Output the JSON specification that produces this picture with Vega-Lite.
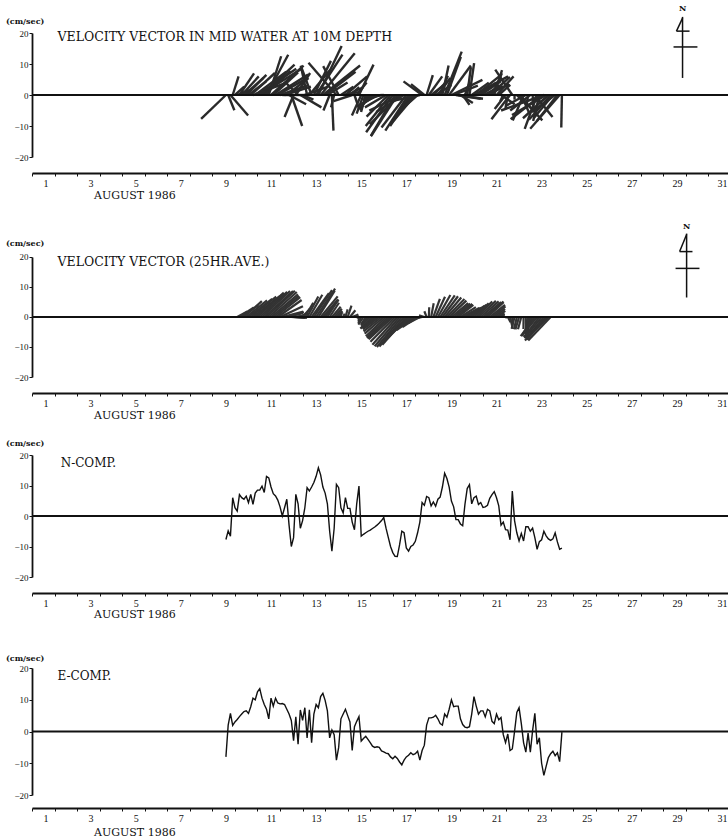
{
"$schema": "https://vega.github.io/schema/vega-lite/v6.json",
"background": "white",
"padding": {"left": 5, "top": 5, "right": 0, "bottom": 0},
"config": {
  "view": {"stroke": null},
  "font": "DejaVu Serif",
  "axis": {"grid": false, "domainColor": "#111", "domainWidth": 1.8, "tickColor": "#111", "labelColor": "#111", "titleColor": "#111", "labelFont": "Liberation Serif", "titleFont": "DejaVu Serif"}
},
"datasets": {
  "cur": [
{"t":9.0,"N":-7.7,"E":-8.0},{"t":9.1,"N":-4.9,"E":2.0},{"t":9.2,"N":-6.6,"E":5.7},{"t":9.3,"N":6.0,"E":1.9},{"t":9.4,"N":2.7,"E":3.0},
{"t":9.5,"N":1.6,"E":3.8},{"t":9.6,"N":7.0,"E":4.7},{"t":9.7,"N":6.0,"E":5.5},{"t":9.8,"N":5.5,"E":6.3},{"t":9.9,"N":6.5,"E":6.5},
{"t":10.0,"N":4.4,"E":5.7},{"t":10.1,"N":7.1,"E":7.8},{"t":10.2,"N":3.8,"E":10.5},{"t":10.3,"N":7.5,"E":10.0},{"t":10.4,"N":8.5,"E":12.5},
{"t":10.5,"N":8.5,"E":13.5},{"t":10.6,"N":9.8,"E":10.5},{"t":10.7,"N":7.7,"E":8.5},{"t":10.8,"N":13.0,"E":7.0},{"t":10.9,"N":12.5,"E":4.0},
{"t":11.0,"N":9.5,"E":10.5},{"t":11.1,"N":7.3,"E":8.0},{"t":11.2,"N":6.6,"E":10.5},{"t":11.3,"N":5.2,"E":9.0},{"t":11.4,"N":3.0,"E":8.7},
{"t":11.5,"N":0.0,"E":8.8},{"t":11.6,"N":2.7,"E":8.5},{"t":11.7,"N":5.5,"E":7.0},{"t":11.8,"N":-3.0,"E":5.5},{"t":11.9,"N":-10.0,"E":3.5},
{"t":12.0,"N":-7.1,"E":-2.9},{"t":12.1,"N":7.1,"E":4.6},{"t":12.2,"N":4.0,"E":-4.0},{"t":12.3,"N":-4.0,"E":6.8},{"t":12.4,"N":-1.5,"E":3.5},
{"t":12.5,"N":2.7,"E":7.5},{"t":12.6,"N":9.3,"E":-2.0},{"t":12.7,"N":8.2,"E":6.8},{"t":12.8,"N":9.5,"E":-3.5},{"t":12.9,"N":11.0,"E":5.5},
{"t":13.0,"N":13.0,"E":8.5},{"t":13.1,"N":15.8,"E":7.5},{"t":13.2,"N":13.5,"E":11.0},{"t":13.3,"N":9.5,"E":12.0},{"t":13.4,"N":7.5,"E":9.8},
{"t":13.5,"N":4.0,"E":6.5},{"t":13.6,"N":-5.0,"E":-2.0},{"t":13.7,"N":-11.5,"E":0.5},{"t":13.8,"N":-4.0,"E":-1.0},{"t":13.9,"N":10.4,"E":-9.0},
{"t":14.0,"N":9.3,"E":-5.0},{"t":14.1,"N":2.7,"E":4.0},{"t":14.2,"N":1.0,"E":5.5},{"t":14.3,"N":6.0,"E":7.0},{"t":14.4,"N":2.5,"E":5.0},
{"t":14.5,"N":2.5,"E":3.0},{"t":14.6,"N":-2.0,"E":-6.0},{"t":14.7,"N":-4.5,"E":1.5},{"t":14.8,"N":4.0,"E":3.2},{"t":14.9,"N":9.8,"E":4.7},
{"t":15.0,"N":-6.6,"E":-3.0},{"t":15.1,"N":-6.0,"E":-2.2},{"t":15.2,"N":-5.5,"E":-1.5},{"t":15.3,"N":-5.0,"E":-2.5},{"t":15.4,"N":-4.6,"E":-3.5},
{"t":15.5,"N":-4.1,"E":-4.6},{"t":15.6,"N":-3.6,"E":-5.0},{"t":15.7,"N":-3.0,"E":-4.8},{"t":15.8,"N":-2.3,"E":-5.0},{"t":15.9,"N":-1.5,"E":-6.1},
{"t":16.0,"N":-0.5,"E":-6.4},{"t":16.1,"N":-4.0,"E":-6.8},{"t":16.2,"N":-7.0,"E":-7.0},{"t":16.3,"N":-10.0,"E":-8.0},{"t":16.4,"N":-12.0,"E":-8.6},
{"t":16.5,"N":-13.2,"E":-7.8},{"t":16.6,"N":-13.3,"E":-8.5},{"t":16.7,"N":-9.5,"E":-9.6},{"t":16.8,"N":-5.0,"E":-10.5},{"t":16.9,"N":-5.5,"E":-9.0},
{"t":17.0,"N":-10.5,"E":-8.0},{"t":17.1,"N":-11.5,"E":-7.5},{"t":17.2,"N":-10.0,"E":-6.7},{"t":17.3,"N":-9.5,"E":-7.3},{"t":17.4,"N":-8.3,"E":-7.0},
{"t":17.5,"N":-5.5,"E":-6.2},{"t":17.6,"N":-2.0,"E":-9.0},{"t":17.7,"N":4.4,"E":-6.0},{"t":17.8,"N":3.5,"E":-4.3},{"t":17.9,"N":6.4,"E":2.0},
{"t":18.0,"N":6.0,"E":4.3},{"t":18.1,"N":3.3,"E":4.3},{"t":18.2,"N":4.6,"E":4.5},{"t":18.3,"N":3.2,"E":5.1},{"t":18.4,"N":5.5,"E":4.0},
{"t":18.5,"N":6.2,"E":2.5},{"t":18.6,"N":9.5,"E":2.0},{"t":18.7,"N":14.0,"E":5.5},{"t":18.8,"N":12.3,"E":4.5},{"t":18.9,"N":9.5,"E":7.0},
{"t":19.0,"N":4.9,"E":10.0},{"t":19.1,"N":3.0,"E":7.8},{"t":19.2,"N":-1.2,"E":8.0},{"t":19.3,"N":-1.2,"E":8.0},{"t":19.4,"N":-2.6,"E":4.0},
{"t":19.5,"N":-3.2,"E":2.2},{"t":19.6,"N":3.8,"E":1.4},{"t":19.7,"N":9.0,"E":1.2},{"t":19.8,"N":10.3,"E":1.5},{"t":19.9,"N":4.0,"E":5.5},
{"t":20.0,"N":6.0,"E":11.0},{"t":20.1,"N":6.5,"E":8.0},{"t":20.2,"N":3.8,"E":5.5},{"t":20.3,"N":4.4,"E":6.5},{"t":20.4,"N":2.8,"E":6.5},
{"t":20.5,"N":3.0,"E":4.6},{"t":20.6,"N":3.5,"E":7.0},{"t":20.7,"N":5.8,"E":6.5},{"t":20.8,"N":7.0,"E":3.2},{"t":20.9,"N":8.0,"E":2.5},
{"t":21.0,"N":6.0,"E":5.5},{"t":21.1,"N":3.3,"E":3.7},{"t":21.2,"N":-3.0,"E":4.4},{"t":21.3,"N":-2.0,"E":-1.0},{"t":21.4,"N":-4.5,"E":-3.5},
{"t":21.5,"N":-4.6,"E":-0.8},{"t":21.6,"N":-7.8,"E":-6.0},{"t":21.7,"N":8.2,"E":-5.5},{"t":21.8,"N":-1.5,"E":0.0},{"t":21.9,"N":-5.5,"E":6.0},
{"t":22.0,"N":-8.2,"E":7.5},{"t":22.1,"N":-5.7,"E":2.5},{"t":22.2,"N":-8.2,"E":-3.5},{"t":22.3,"N":-3.5,"E":-6.5},{"t":22.4,"N":-3.5,"E":-0.5},
{"t":22.5,"N":-5.0,"E":-6.5},{"t":22.6,"N":-4.0,"E":0.3},{"t":22.7,"N":-7.1,"E":5.7},{"t":22.8,"N":-10.9,"E":-4.0},{"t":22.9,"N":-8.4,"E":-2.0},
{"t":23.0,"N":-7.8,"E":-10.0},{"t":23.1,"N":-5.0,"E":-13.8},{"t":23.2,"N":-6.5,"E":-11.0},{"t":23.3,"N":-7.5,"E":-8.2},{"t":23.4,"N":-8.0,"E":-7.0},
{"t":23.5,"N":-7.5,"E":-6.2},{"t":23.6,"N":-5.5,"E":-7.6},{"t":23.7,"N":-8.5,"E":-6.7},{"t":23.8,"N":-10.9,"E":-9.5},{"t":23.9,"N":-10.5,"E":-0.2}
  ]
},
"spacing": 78,
"bounds": "flush",
"vconcat": [
 {
  "width": 697, "height": 124,
  "resolve": {"axis": {"x": "independent", "y": "independent"}},
  "layer": [
   {
    "data": {"name": "cur"},
    "transform": [{"calculate": "datum.t + 0.1375 * datum.E", "as": "tip"}],
    "mark": {"type": "rule", "color": "#2a2a2a", "strokeWidth": 2.4},
    "encoding": {
     "x": {"field": "tip", "type": "quantitative", "scale": {"domain": [0.4, 31.31], "nice": false, "zero": false},
           "axis": {"values": [0.4,1.4,2.4,3.4,4.4,5.4,6.4,7.4,8.4,9.4,10.4,11.4,12.4,13.4,14.4,15.4,16.4,17.4,18.4,19.4,20.4,21.4,22.4,23.4,24.4,25.4,26.4,27.4,28.4,29.4,30.4],
                    "labelExpr": "round(datum.value + 0.6) % 2 == 1 ? '' + round(datum.value + 0.6) : ''",
                    "labelOffset": 13.5, "offset": 16, "tickSize": 3, "labelPadding": 2, "labelFontSize": 10, "labelFlush": false, "labelOverlap": false, "labelBound": false,
                    "title": "AUGUST 1986", "titleX": 61.5, "titleY": 22, "titleAlign": "left", "titleAnchor": "start", "titleBaseline": "middle", "titleFontSize": 11, "titleFontWeight": "normal"}},
     "x2": {"field": "t"},
     "y": {"field": "N", "type": "quantitative", "scale": {"domain": [-20, 20], "nice": false},
           "axis": {"values": [-20,-10,0,10,20], "domain": true, "tickSize": 3, "labelPadding": 1, "labelFontSize": 9, "labelOverlap": false, "labelBound": false, "labelFlush": false,
                    "title": "(cm/sec)", "titleAngle": 0, "titleX": -26.5, "titleY": -12, "titleAlign": "left", "titleBaseline": "middle", "titleFontSize": 8, "titleFontWeight": "bold"}},
     "y2": {"datum": 0}
    }
   },
   {"data": {"values": [{}]}, "mark": {"type": "rule", "color": "#111", "strokeWidth": 2}, "encoding": {"y": {"datum": 0, "axis": null}}},
   {"data": {"values": [{}]}, "mark": {"type": "text", "align": "left", "baseline": "middle", "fontSize": 12.5, "font": "DejaVu Serif", "color": "#111"},
    "encoding": {"x": {"datum": 1.53, "axis": null}, "y": {"datum": 18.7, "axis": null}, "text": {"value": "VELOCITY VECTOR IN MID WATER AT 10M DEPTH"}}},
   {"data": {"values": [{}]}, "mark": {"type": "rule", "color": "#111", "strokeWidth": 1.5}, "encoding": {"x": {"datum": 29.25, "axis": null}, "y": {"datum": 25.2, "axis": null}, "y2": {"datum": 5.5}}},
   {"data": {"values": [{}]}, "mark": {"type": "rule", "color": "#111", "strokeWidth": 1.5}, "encoding": {"x": {"datum": 29.25, "axis": null}, "x2": {"datum": 28.98}, "y": {"datum": 24.8, "axis": null}, "y2": {"datum": 20.6}}},
   {"data": {"values": [{}]}, "mark": {"type": "rule", "color": "#111", "strokeWidth": 1.5}, "encoding": {"x": {"datum": 28.98, "axis": null}, "x2": {"datum": 29.56}, "y": {"datum": 20.6, "axis": null}}},
   {"data": {"values": [{}]}, "mark": {"type": "rule", "color": "#111", "strokeWidth": 1.5}, "encoding": {"x": {"datum": 28.85, "axis": null}, "x2": {"datum": 29.91}, "y": {"datum": 15.5, "axis": null}}},
   {"data": {"values": [{}]}, "mark": {"type": "text", "align": "center", "baseline": "middle", "fontSize": 8, "fontWeight": "bold", "color": "#111"},
    "encoding": {"x": {"datum": 29.25, "axis": null}, "y": {"datum": 27.6, "axis": null}, "text": {"value": "N"}}}
  ]
 },
 {
  "width": 697, "height": 142,
  "resolve": {"axis": {"x": "independent", "y": "independent"}},
  "layer": [
   {
    "data": {"name": "cur"},
    "transform": [
     {"window": [{"op": "mean", "field": "N", "as": "aN"}, {"op": "mean", "field": "E", "as": "aE"}, {"op": "count", "as": "cnt"}], "frame": [-5, 5], "sort": [{"field": "t"}]},
     {"filter": "datum.cnt == 11"},
     {"calculate": "datum.t + 0.133 * datum.aE", "as": "tip"}
    ],
    "mark": {"type": "rule", "color": "#333", "strokeWidth": 2.2},
    "encoding": {
     "x": {"field": "tip", "type": "quantitative", "scale": {"domain": [0.4, 31.31], "nice": false, "zero": false},
           "axis": {"values": [0.4,1.4,2.4,3.4,4.4,5.4,6.4,7.4,8.4,9.4,10.4,11.4,12.4,13.4,14.4,15.4,16.4,17.4,18.4,19.4,20.4,21.4,22.4,23.4,24.4,25.4,26.4,27.4,28.4,29.4,30.4],
                    "labelExpr": "round(datum.value + 0.6) % 2 == 1 ? '' + round(datum.value + 0.6) : ''",
                    "labelOffset": 13.5, "offset": 16, "tickSize": 3, "labelPadding": 2, "labelFontSize": 10, "labelFlush": false, "labelOverlap": false, "labelBound": false,
                    "title": "AUGUST 1986", "titleX": 61.5, "titleY": 22, "titleAlign": "left", "titleAnchor": "start", "titleBaseline": "middle", "titleFontSize": 11, "titleFontWeight": "normal"}},
     "x2": {"field": "t"},
     "y": {"field": "aN", "type": "quantitative", "scale": {"domain": [-20, 27.33], "nice": false},
           "axis": {"values": [-20,-10,0,10,20], "domain": true, "domainDash": [120, 300], "tickSize": 3, "labelPadding": 1, "labelFontSize": 9, "labelOverlap": false, "labelBound": false, "labelFlush": false,
                    "title": "(cm/sec)", "titleAngle": 0, "titleX": -26.5, "titleY": 8, "titleAlign": "left", "titleBaseline": "middle", "titleFontSize": 8, "titleFontWeight": "bold"}},
     "y2": {"datum": 0}
    }
   },
   {"data": {"values": [{}]}, "mark": {"type": "rule", "color": "#111", "strokeWidth": 2}, "encoding": {"y": {"datum": 0, "axis": null}}},
   {"data": {"values": [{}]}, "mark": {"type": "text", "align": "left", "baseline": "middle", "fontSize": 12.5, "font": "DejaVu Serif", "color": "#111"},
    "encoding": {"x": {"datum": 1.53, "axis": null}, "y": {"datum": 18.2, "axis": null}, "text": {"value": "VELOCITY VECTOR (25HR.AVE.)"}}},
   {"data": {"values": [{}]}, "mark": {"type": "rule", "color": "#111", "strokeWidth": 1.5}, "encoding": {"x": {"datum": 29.43, "axis": null}, "y": {"datum": 27.8, "axis": null}, "y2": {"datum": 6.5}}},
   {"data": {"values": [{}]}, "mark": {"type": "rule", "color": "#111", "strokeWidth": 1.5}, "encoding": {"x": {"datum": 29.43, "axis": null}, "x2": {"datum": 29.12}, "y": {"datum": 27.5, "axis": null}, "y2": {"datum": 21.8}}},
   {"data": {"values": [{}]}, "mark": {"type": "rule", "color": "#111", "strokeWidth": 1.5}, "encoding": {"x": {"datum": 29.12, "axis": null}, "x2": {"datum": 29.69}, "y": {"datum": 21.8, "axis": null}}},
   {"data": {"values": [{}]}, "mark": {"type": "rule", "color": "#111", "strokeWidth": 1.5}, "encoding": {"x": {"datum": 28.94, "axis": null}, "x2": {"datum": 30.0}, "y": {"datum": 16.2, "axis": null}}},
   {"data": {"values": [{}]}, "mark": {"type": "text", "align": "center", "baseline": "middle", "fontSize": 8, "fontWeight": "bold", "color": "#111"},
    "encoding": {"x": {"datum": 29.43, "axis": null}, "y": {"datum": 30.0, "axis": null}, "text": {"value": "N"}}}
  ]
 },
 {
  "width": 697, "height": 122,
  "resolve": {"axis": {"x": "independent", "y": "independent"}},
  "layer": [
   {
    "data": {"name": "cur"},
    "mark": {"type": "line", "color": "#111", "strokeWidth": 1.4},
    "encoding": {
     "x": {"field": "t", "type": "quantitative", "scale": {"domain": [0.4, 31.31], "nice": false, "zero": false},
           "axis": {"values": [0.4,1.4,2.4,3.4,4.4,5.4,6.4,7.4,8.4,9.4,10.4,11.4,12.4,13.4,14.4,15.4,16.4,17.4,18.4,19.4,20.4,21.4,22.4,23.4,24.4,25.4,26.4,27.4,28.4,29.4,30.4],
                    "labelExpr": "round(datum.value + 0.6) % 2 == 1 ? '' + round(datum.value + 0.6) : ''",
                    "labelOffset": 13.5, "offset": 16, "tickSize": 3, "labelPadding": 2, "labelFontSize": 10, "labelFlush": false, "labelOverlap": false, "labelBound": false,
                    "title": "AUGUST 1986", "titleX": 61.5, "titleY": 21, "titleAlign": "left", "titleAnchor": "start", "titleBaseline": "middle", "titleFontSize": 11, "titleFontWeight": "normal"}},
     "y": {"field": "N", "type": "quantitative", "scale": {"domain": [-20, 20], "nice": false},
           "axis": {"values": [-20,-10,0,10,20], "domain": true, "tickSize": 3, "labelPadding": 1, "labelFontSize": 9, "labelOverlap": false, "labelBound": false, "labelFlush": false,
                    "title": "(cm/sec)", "titleAngle": 0, "titleX": -26.5, "titleY": -12, "titleAlign": "left", "titleBaseline": "middle", "titleFontSize": 8, "titleFontWeight": "bold"}}
    }
   },
   {"data": {"values": [{}]}, "mark": {"type": "rule", "color": "#111", "strokeWidth": 2}, "encoding": {"y": {"datum": 0, "axis": null}}},
   {"data": {"values": [{}]}, "mark": {"type": "text", "align": "left", "baseline": "middle", "fontSize": 12, "font": "DejaVu Serif", "color": "#111"},
    "encoding": {"x": {"datum": 1.67, "axis": null}, "y": {"datum": 17.5, "axis": null}, "text": {"value": "N-COMP."}}}
  ]
 },
 {
  "width": 697, "height": 140,
  "resolve": {"axis": {"x": "independent", "y": "independent"}},
  "layer": [
   {
    "data": {"name": "cur"},
    "mark": {"type": "line", "color": "#111", "strokeWidth": 1.4},
    "encoding": {
     "x": {"field": "t", "type": "quantitative", "scale": {"domain": [0.4, 31.31], "nice": false, "zero": false},
           "axis": {"values": [0.4,1.4,2.4,3.4,4.4,5.4,6.4,7.4,8.4,9.4,10.4,11.4,12.4,13.4,14.4,15.4,16.4,17.4,18.4,19.4,20.4,21.4,22.4,23.4,24.4,25.4,26.4,27.4,28.4,29.4,30.4],
                    "labelExpr": "round(datum.value + 0.6) % 2 == 1 ? '' + round(datum.value + 0.6) : ''",
                    "labelOffset": 13.5, "offset": 13, "tickSize": 3, "labelPadding": 2, "labelFontSize": 10, "labelFlush": false, "labelOverlap": false, "labelBound": false,
                    "title": "AUGUST 1986", "titleX": 61.5, "titleY": 24, "titleAlign": "left", "titleAnchor": "start", "titleBaseline": "middle", "titleFontSize": 11, "titleFontWeight": "normal"}},
     "y": {"field": "E", "type": "quantitative", "scale": {"domain": [-20, 24.1], "nice": false},
           "axis": {"values": [-20,-10,0,10,20], "domain": true, "domainDash": [127, 300], "tickSize": 3, "labelPadding": 1, "labelFontSize": 9, "labelOverlap": false, "labelBound": false, "labelFlush": false,
                    "title": "(cm/sec)", "titleAngle": 0, "titleX": -26.5, "titleY": 3, "titleAlign": "left", "titleBaseline": "middle", "titleFontSize": 8, "titleFontWeight": "bold"}}
    }
   },
   {"data": {"values": [{}]}, "mark": {"type": "rule", "color": "#111", "strokeWidth": 2}, "encoding": {"y": {"datum": 0, "axis": null}}},
   {"data": {"values": [{}]}, "mark": {"type": "text", "align": "left", "baseline": "middle", "fontSize": 12, "font": "DejaVu Serif", "color": "#111"},
    "encoding": {"x": {"datum": 1.53, "axis": null}, "y": {"datum": 17.4, "axis": null}, "text": {"value": "E-COMP."}}}
  ]
 }
]
}
